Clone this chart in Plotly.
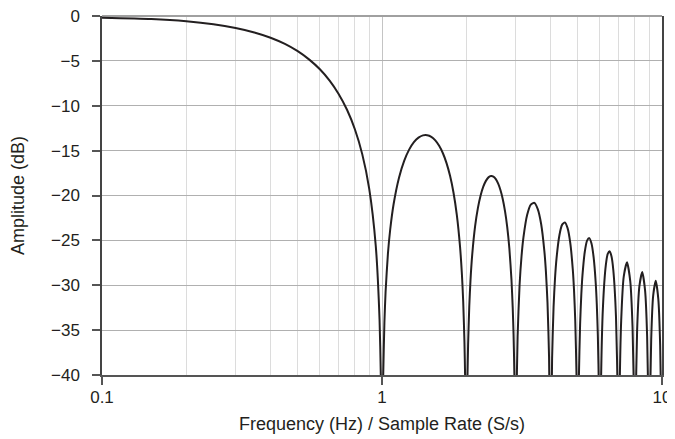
import plotly.graph_objects as go

# Frequency (normalized to sample rate) and amplitude (dB)
freq = [
    0.10, 0.15, 0.20, 0.25, 0.30, 0.35, 0.40, 0.45, 0.50, 0.55, 0.60, 0.65, 0.70, 0.75,
    0.80, 0.85, 0.90, 0.95, 0.98, 0.99, 0.995, 1.00,
    1.005, 1.01, 1.02, 1.03, 1.05, 1.07, 1.10, 1.15, 1.20, 1.25, 1.30, 1.35, 1.40, 1.45,
    1.50, 1.55, 1.60, 1.65, 1.70, 1.75, 1.80, 1.85, 1.90, 1.93, 1.95, 1.97, 1.98, 1.99, 2.00,
    2.01, 2.02, 2.03, 2.05, 2.07, 2.10, 2.15, 2.20, 2.25, 2.30, 2.35, 2.40, 2.45, 2.50,
    2.55, 2.60, 2.65, 2.70, 2.75, 2.80, 2.85, 2.90, 2.93, 2.95, 2.97, 2.99, 3.00,
    3.01, 3.02, 3.05, 3.10, 3.15, 3.20, 3.30, 3.40, 3.50, 3.60, 3.70, 3.80, 3.85, 3.90,
    3.95, 3.99, 4.00,
    4.01, 4.05, 4.10, 4.15, 4.20, 4.30, 4.40, 4.50, 4.60, 4.70, 4.80, 4.85, 4.90, 4.95,
    4.99, 5.00,
    5.01, 5.05, 5.10, 5.15, 5.20, 5.30, 5.40, 5.50, 5.60, 5.70, 5.80, 5.85, 5.90, 5.95,
    5.99, 6.00,
    6.01, 6.05, 6.15, 6.30, 6.40, 6.50, 6.60, 6.70, 6.85, 6.95, 6.99, 7.00,
    7.01, 7.05, 7.15, 7.30, 7.50, 7.70, 7.85, 7.95, 7.99, 8.00,
    8.01, 8.05, 8.15, 8.30, 8.50, 8.70, 8.85, 8.95, 8.99, 9.00,
    9.01, 9.05, 9.15, 9.30, 9.50, 9.70, 9.85, 9.95, 9.99, 10.00,
]
amplitude_db = [
    -0.20, -0.34, -0.58, -0.91, -1.33, -1.83, -2.42, -3.11, -3.92, -4.86, -5.94, -7.20, -8.69, -10.45,
    -12.62, -15.39, -19.23, -25.61, -33.81, -39.90, -45.98, -60.0,
    -46.06, -40.09, -34.16, -30.73, -26.48, -23.76, -20.97, -18.02, -16.14, -14.89, -14.06, -13.55, -13.30, -13.28,
    -13.46, -13.86, -14.46, -15.29, -16.39, -17.81, -19.66, -22.15, -25.72, -28.88, -31.86, -36.36, -39.92, -45.98, -60.0,
    -46.07, -40.09, -36.62, -32.29, -29.49, -26.59, -23.45, -21.41, -20.00, -19.02, -18.37, -17.98, -17.84, -17.90,
    -18.18, -18.68, -19.41, -20.41, -21.74, -23.50, -25.90, -29.39, -32.51, -35.45, -39.93, -49.50, -60.0,
    -49.57, -43.58, -35.74, -29.97, -26.77, -24.67, -22.15, -21.01, -20.82, -21.51, -23.15, -26.16, -28.51, -31.96,
    -37.99, -52.02, -60.0,
    -52.07, -38.20, -32.40, -29.16, -27.03, -24.45, -23.25, -23.01, -23.64, -25.23, -28.19, -30.52, -33.95, -39.95,
    -53.97, -60.0,
    -54.00, -40.12, -34.29, -31.04, -28.88, -26.27, -25.03, -24.75, -25.35, -26.90, -29.83, -32.15, -35.56, -41.54,
    -55.55, -60.0,
    -55.58, -41.69, -32.58, -27.77, -26.51, -26.20, -26.77, -28.30, -33.52, -42.89, -56.89, -60.0,
    -56.92, -43.02, -33.89, -29.05, -27.44, -29.51, -34.70, -44.06, -58.05, -60.0,
    -58.08, -44.17, -35.03, -30.16, -28.53, -30.57, -35.74, -45.09, -59.08, -60.0,
    -59.10, -45.19, -36.03, -31.15, -29.50, -31.52, -36.67, -46.01, -59.99, -60.0,
]

x_tickvals = [0.1, 1, 10]
x_ticktext = ["0.1", "1", "10"]
y_tickvals = [0, -5, -10, -15, -20, -25, -30, -35, -40]
y_ticktext = ["0", "\u22125", "\u221210", "\u221215", "\u221220", "\u221225", "\u221230", "\u221235", "\u221240"]

fig = go.Figure()
fig.add_trace(go.Scatter(
    x=freq, y=amplitude_db, mode="lines",
    line=dict(color="#231f20", width=2, shape="spline", smoothing=0.6),
    showlegend=False, hoverinfo="skip",
))

font_family = "Liberation Sans, Arial, Helvetica, sans-serif"

# The page body adds an 8px margin, so the figure is sized/offset to compensate.
fig.update_layout(
    width=667, height=431,
    margin=dict(l=94, r=13, t=8, b=64, autoexpand=False),
    paper_bgcolor="white", plot_bgcolor="white",
    font=dict(family=font_family, size=17, color="#231f20"),
    xaxis=dict(
        type="log", range=[-1, 1],
        tickvals=x_tickvals, ticktext=x_ticktext,
        ticks="outside", ticklen=8, tickwidth=1.5, tickcolor="#555555",
        showline=True, linecolor="#555555", linewidth=1.5,
        showgrid=True, gridcolor="#c4c4c4", gridwidth=1,
        minor=dict(dtick="D1", showgrid=True, gridcolor="#dcdcdc", gridwidth=1, ticks=""),
        zeroline=False, automargin=False, ticklabelstandoff=-2,
        ticklabeloverflow="allow",
        title=dict(text="Frequency (Hz) / Sample Rate (S/s)", standoff=11,
                   font=dict(size=18)),
        tickfont=dict(size=17),
    ),
    yaxis=dict(
        range=[-40, 0],
        tickvals=y_tickvals, ticktext=y_ticktext,
        ticks="outside", ticklen=8, tickwidth=1.5, tickcolor="#555555",
        showline=True, linecolor="#444444", linewidth=1.5, mirror=True,
        showgrid=True, gridcolor="#b0b0b0", gridwidth=1,
        zeroline=True, zerolinecolor="#a0a0a0", zerolinewidth=1.5,
        automargin=False, ticklabelstandoff=9,
        ticklabeloverflow="allow",
        title=dict(text="Amplitude (dB)", standoff=22, font=dict(size=18)),
        tickfont=dict(size=17),
    ),
)

fig.write_html("out.html")
